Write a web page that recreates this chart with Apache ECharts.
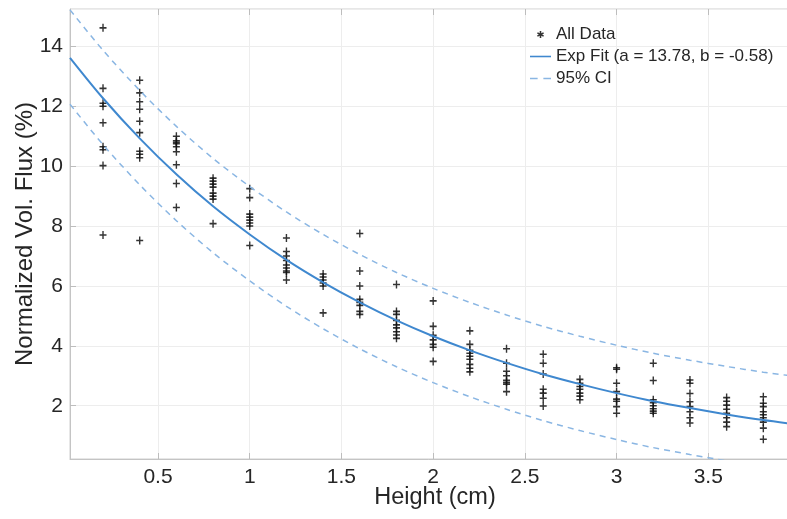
<!DOCTYPE html>
<html><head><meta charset="utf-8">
<script src="https://cdn.jsdelivr.net/npm/echarts@6/dist/echarts.min.js"></script>
<style>html,body{margin:0;padding:0;background:#fff}#chart{width:787px;height:519px}</style>
</head><body><div id="chart"></div>
<script>
// Heights (cm) at which flux was measured
const heights = [0.2,0.4,0.6,0.8,1.0,1.2,1.4,1.6,1.8,2.0,2.2,2.4,2.6,2.8,3.0,3.2,3.4,3.6,3.8];
// Normalized volumetric flux (%) read for each height
const fluxByHeight = [
  [14.62,12.6,12.1,12.0,11.45,10.65,10.55,10.02,7.7],
  [12.87,12.45,12.15,11.9,11.5,11.12,10.5,10.4,10.28,7.52],
  [11.0,10.85,10.8,10.75,10.65,10.48,10.05,9.42,8.62],
  [9.6,9.5,9.4,9.3,9.1,9.0,8.9,8.08],
  [9.25,8.95,8.4,8.3,8.2,8.1,8.0,7.35],
  [7.6,7.15,7.0,6.85,6.7,6.6,6.5,6.45,6.2],
  [6.4,6.3,6.2,6.1,6.0,5.1],
  [7.75,6.5,6.0,5.55,5.45,5.35,5.15,5.05],
  [6.05,5.15,5.05,4.85,4.7,4.6,4.47,4.36,4.25],
  [5.5,4.65,4.35,4.2,4.05,3.95,3.48],
  [4.5,4.05,3.85,3.75,3.65,3.55,3.38,3.25,3.13],
  [3.9,3.42,3.15,3.0,2.85,2.78,2.72,2.47],
  [3.72,3.42,3.06,2.55,2.42,2.25,1.99],
  [2.88,2.75,2.64,2.55,2.42,2.32,2.2],
  [3.27,3.22,2.75,2.47,2.22,2.15,1.97,1.75],
  [3.42,2.84,2.2,2.1,2.0,1.9,1.82,1.75],
  [2.86,2.75,2.41,2.13,1.97,1.8,1.6,1.42],
  [2.27,2.15,2.02,1.88,1.75,1.6,1.45,1.3],
  [2.3,2.08,1.97,1.8,1.7,1.6,1.45,1.25,0.88]
];
// Curves (fit and 95% CI)
const curveX   = [0.02,0.2,0.4,0.6,0.8,1.0,1.2,1.4,1.6,1.8,2.0,2.2,2.4,2.6,2.8,3.0,3.2,3.4,3.6,3.8,4.0];
const fitY     = [13.62,12.27,10.93,9.73,8.66,7.72,6.87,6.12,5.45,4.85,4.32,3.85,3.43,3.05,2.72,2.42,2.15,1.92,1.71,1.52,1.36];
const ciUpperY = [15.22,13.87,12.53,11.33,10.26,9.32,8.47,7.72,7.05,6.45,5.92,5.45,5.03,4.65,4.32,4.02,3.75,3.52,3.31,3.12,2.96];
const ciLowerY = [12.07,10.72,9.38,8.18,7.11,6.17,5.32,4.57,3.90,3.30,2.77,2.30,1.88,1.50,1.17,0.87,0.60,0.37,0.16,-0.03,-0.19];
// Tick labels
const xTickValues = [0.5,1,1.5,2,2.5,3,3.5];
const yTickValues = [2,4,6,8,10,12,14];
const seriesNames = ['All Data','Exp Fit (a = 13.78, b = -0.58)','95% CI'];

const scatterData = [];
heights.forEach((h,i)=>fluxByHeight[i].forEach(v=>scatterData.push([h,v])));
const pair = ys => curveX.map((x,i)=>[x,ys[i]]);

const FONT = 'Liberation Sans, Arial, Helvetica, sans-serif';
const TXT = '#262626';
const plusPath = 'path://M3.2,0H4.8V3.2H8V4.8H4.8V8H3.2V4.8H0V3.2H3.2Z';
const starPath = 'path://M3.1,0H4.9V2.6L7.1,1.3L8,2.9L5.8,4L8,5.1L7.1,6.7L4.9,5.4V8H3.1V5.4L0.9,6.7L0,5.1L2.2,4L0,2.9L0.9,1.3L3.1,2.6Z';
const solidIcon = 'path://M0,0H24V1.8H0Z';
const dashIcon = 'path://M0,0H8V1.5H0ZM14,0H22V1.5H14Z';
const fmt = list => v => { const r = Math.round(v*1000)/1000; return list.includes(r) ? String(r) : ''; };

const chart = echarts.init(document.getElementById('chart'), null, {renderer:'canvas'});
chart.setOption({
  animation:false,
  backgroundColor:'#fff',
  grid:{left:70, top:9, right:-13, bottom:60, containLabel:false, outerBoundsMode:'none',
        show:true, borderColor:'#cfcfcf', borderWidth:1, backgroundColor:'transparent'},
  legend:[
    {data:[{name:seriesNames[0], icon:starPath}], orient:'vertical', left:537, top:25, padding:0, itemWidth:21, itemHeight:7,
     textStyle:{fontFamily:FONT, fontSize:17, color:TXT, lineHeight:19}, selectedMode:false},
    {data:[{name:seriesNames[1], icon:solidIcon}, {name:seriesNames[2], icon:dashIcon}], orient:'vertical', left:530, top:47, padding:0, itemWidth:21, itemHeight:12, itemGap:3,
     textStyle:{fontFamily:FONT, fontSize:17, color:TXT, lineHeight:19}, selectedMode:false}
  ],
  xAxis:[{
    type:'value', min:0.02, max:4.0, splitNumber:8, minInterval:0.5, maxInterval:0.5,
    name:'Height (cm)', nameLocation:'middle', nameGap:27, nameMoveOverlap:false,
    nameTextStyle:{fontFamily:FONT, fontSize:23.5, color:TXT},
    axisLine:{show:true, lineStyle:{color:'#c4c4c4', width:1}},
    axisTick:{show:true, inside:true, length:6, lineStyle:{color:'#bdbdbd'}},
    axisLabel:{fontFamily:FONT, fontSize:21, color:TXT, margin:8, formatter:fmt(xTickValues), showMinLabel:false, showMaxLabel:false},
    splitLine:{show:true, lineStyle:{color:'#ededed', width:1}}
  },{
    type:'value', position:'top', min:0.02, max:4.0, splitNumber:8, minInterval:0.5, maxInterval:0.5,
    axisLine:{show:false}, axisTick:{show:true, inside:true, length:6, lineStyle:{color:'#bdbdbd'}},
    axisLabel:{show:false}, splitLine:{show:false}
  }],
  yAxis:{
    type:'value', min:0.22, max:15.25, splitNumber:7, minInterval:2, maxInterval:2,
    name:'Normalized Vol. Flux (%)', nameLocation:'middle', nameGap:33, nameRotate:90, nameMoveOverlap:false,
    nameTextStyle:{fontFamily:FONT, fontSize:24, color:TXT},
    axisLine:{show:true, lineStyle:{color:'#c4c4c4', width:1}},
    axisTick:{show:true, inside:true, length:6, lineStyle:{color:'#bdbdbd'}},
    axisLabel:{fontFamily:FONT, fontSize:21, color:TXT, margin:7, formatter:fmt(yTickValues), showMinLabel:false, showMaxLabel:false},
    splitLine:{show:true, lineStyle:{color:'#ededed', width:1}}
  },
  series:[
    {name:seriesNames[0], type:'scatter', data:scatterData, symbol:plusPath, symbolSize:[7,8],
     itemStyle:{color:'#111', opacity:0.85}, z:3},
    {name:seriesNames[1], type:'line', data:pair(fitY), smooth:0.3, showSymbol:false, symbol:'none',
     lineStyle:{color:'#3f88cf', width:2}, itemStyle:{color:'#3f88cf'}, z:4},
    {name:seriesNames[2], type:'line', data:pair(ciUpperY), smooth:0.3, showSymbol:false, symbol:'none',
     lineStyle:{color:'#8ab6e3', width:1.5, type:[6,5]}, itemStyle:{color:'#8ab6e3'}, z:4},
    {name:seriesNames[2], type:'line', data:pair(ciLowerY), smooth:0.3, showSymbol:false, symbol:'none',
     lineStyle:{color:'#8ab6e3', width:1.5, type:[6,5]}, itemStyle:{color:'#8ab6e3'}, z:4}
  ]
});
</script></body></html>
